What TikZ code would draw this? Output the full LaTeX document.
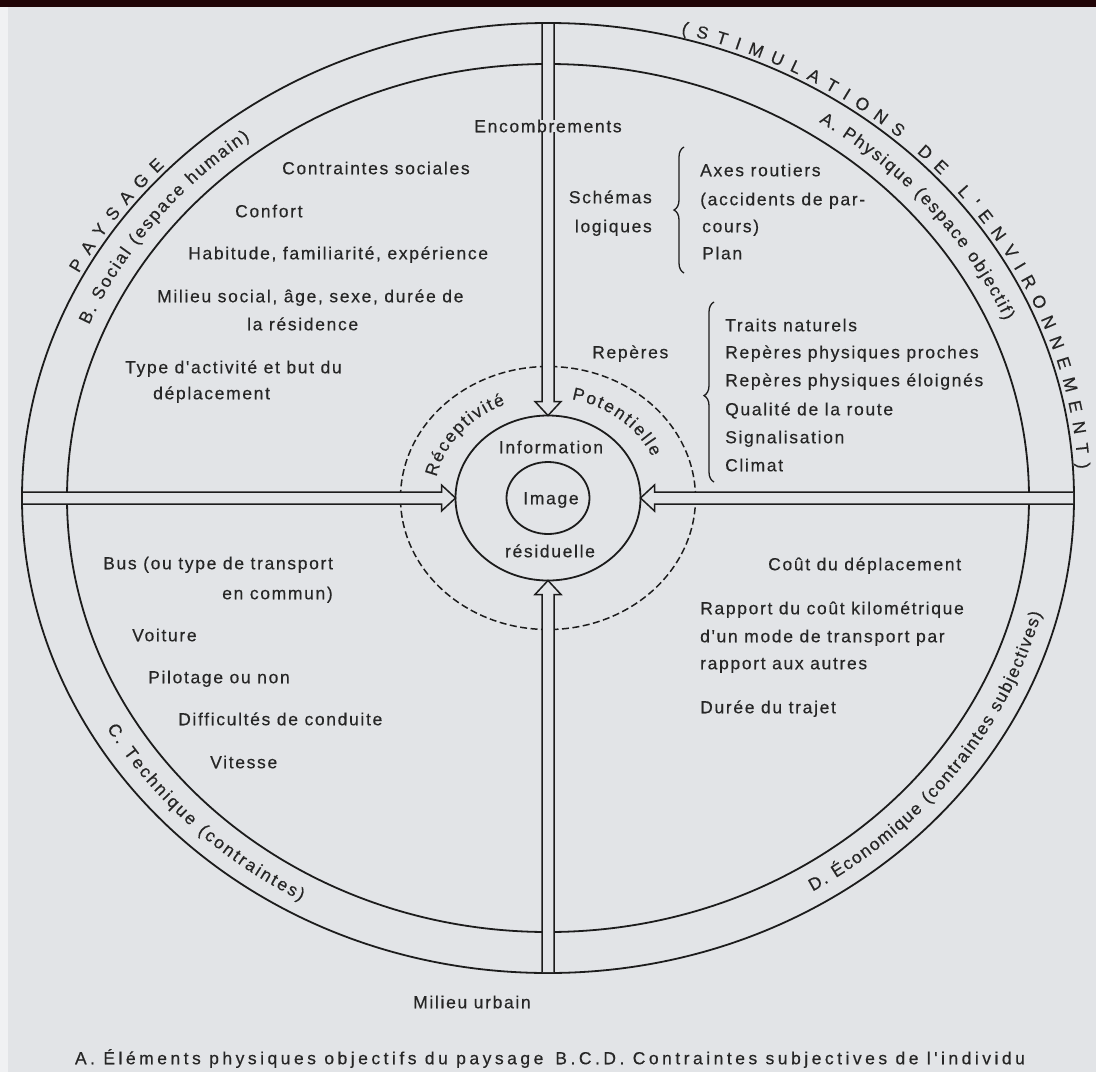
\documentclass[tikz,border=0pt]{standalone}
\usepackage{fontspec}
\setmainfont{Liberation Sans}
\newfontfamily\lblfont{Liberation Sans}[LetterSpace=9.5,FakeBold=0.4]
\newfontfamily\capfont{Liberation Sans}[LetterSpace=20,FakeBold=0.4]
\newfontfamily\arcfont{Liberation Sans}[FakeBold=0.4]
\usetikzlibrary{shapes.geometric,calc,decorations.text,decorations.pathreplacing}
\definecolor{bgc}{RGB}{226,228,231}
\definecolor{ink}{RGB}{28,28,28}
\definecolor{txt}{RGB}{38,38,38}
\definecolor{topband}{RGB}{32,4,6}
\definecolor{edgec}{RGB}{240,241,243}
\newcommand\arrdown[2]{\filldraw[arrowbody] ($(#1)+(-6,-1)$) -- ($(#2)+(-6,14)$) -- ($(#2)+(-13,14)$) -- (#2) -- ($(#2)+(13,14)$) -- ($(#2)+(6,14)$) -- ($(#1)+(6,-1)$);}
\newcommand\arrup[2]{\filldraw[arrowbody] ($(#1)+(-6,1)$) -- ($(#2)+(-6,-14)$) -- ($(#2)+(-13,-14)$) -- (#2) -- ($(#2)+(13,-14)$) -- ($(#2)+(6,-14)$) -- ($(#1)+(6,1)$);}
\newcommand\arrright[2]{\filldraw[arrowbody] ($(#1)+(1,6)$) -- ($(#2)+(-14,6)$) -- ($(#2)+(-14,13)$) -- (#2) -- ($(#2)+(-14,-13)$) -- ($(#2)+(-14,-6)$) -- ($(#1)+(1,-6)$);}
\newcommand\arrleft[2]{\filldraw[arrowbody] ($(#1)+(-1,6)$) -- ($(#2)+(14,6)$) -- ($(#2)+(14,13)$) -- (#2) -- ($(#2)+(14,-13)$) -- ($(#2)+(14,-6)$) -- ($(#1)+(-1,-6)$);}
\newcommand\arctext[5]{\path[decorate, decoration={text along path, text align={fit to path}, text color=txt, text={|\arcfont\fontsize{17.5}{20}\selectfont|#5}}] ($(C)+(#1:#3pt and #4pt)$) arc[start angle=#1, end angle=#2, x radius=#3pt, y radius=#4pt];}
\begin{document}
\begin{tikzpicture}[x=1pt,y=1pt,
  ring/.style={draw=ink, line width=1.8pt, ellipse, inner sep=0pt, outer sep=0pt},
  dashring/.style={ring, line width=1.5pt, dash pattern=on 7pt off 3.5pt},
  arrowbody/.style={draw=ink, fill=bgc, line width=1.5pt, line join=miter},
  lbl/.style={font=\lblfont\fontsize{17.5}{20}\selectfont, text=txt, inner sep=0pt, text height=12.5pt, text depth=0pt},
  bracestyle/.style={draw=ink, line width=1.3pt, decorate, decoration={brace, amplitude=10pt}}]
\useasboundingbox (0,0) rectangle (1096,-1072);
\fill[bgc] (0,0) rectangle (1096,-1072);
\fill[edgec] (0,-7) rectangle (8,-1072);
\fill[topband] (0,0) rectangle (1096,-7);
\coordinate (C) at (548,-498);
% rings
\node[ring, minimum width=1052pt, minimum height=950pt] (outer) at (C) {};
\node[ring, minimum width=962pt, minimum height=868pt] (inner) at (C) {};
\node[dashring, minimum width=295pt, minimum height=263pt] (recept) at (C) {};
\node[ring, minimum width=185pt, minimum height=165pt] (info) at (C) {};
\node[ring, minimum width=83pt, minimum height=72pt] (img) at (C) {};
% arrows
\arrdown{outer.north}{info.north}
\arrup{outer.south}{info.south}
\arrright{outer.west}{info.west}
\arrleft{outer.east}{info.east}
% arc labels
\arctext{152.1}{136.2}{531}{480}{PAYSAGE}
\arctext{75.5}{3.5}{531}{480}{(STIMULATIONS DE L'ENVIRONNEMENT)}
\arctext{57}{23.3}{497.5}{448.5}{A. Physique (espace objectif)}
\arctext{157.3}{126.8}{497.5}{448.5}{B. Social (espace humain)}
\arctext{210}{241}{509.5}{460.5}{C. Technique (contraintes)}
\arctext{301.3}{345.5}{509.5}{460.5}{D. Économique (contraintes subjectives)}
\arctext{168}{112}{114}{101}{Réceptivité}
\arctext{78}{24}{114}{101}{Potentielle}
% center texts
\node[lbl] (tinfo) at (551,-447) {Information};
\node[lbl] (timg) at (551,-498) {Image};
\node[lbl] (tres) at (550,-551) {résiduelle};
% top
\node[lbl, fill=bgc] (tenc) at (548,-126) {Encombrements};
% top-left quadrant
\node[lbl, anchor=west] (b1) at (282,-168) {Contraintes sociales};
\node[lbl, anchor=west] (b2) at (235,-211) {Confort};
\node[lbl, anchor=west] (b3) at (188,-253) {Habitude, familiarité, expérience};
\node[lbl, anchor=west] (b4) at (157,-296) {Milieu social, âge, sexe, durée de};
\node[lbl, anchor=west] (b5) at (247,-324) {la résidence};
\node[lbl, anchor=west] (b6) at (125,-367) {Type d'activité et but du};
\node[lbl, anchor=west] (b7) at (153,-393) {déplacement};
% top-right quadrant
\node[lbl, anchor=east] (a1) at (652,-197) {Schémas};
\node[lbl, anchor=east] (a2) at (652,-226) {logiques};
\coordinate (br1b) at (684,-273);
\coordinate (br1t) at (684,-147);
\draw[bracestyle] (br1b) -- (br1t);
\node[lbl, anchor=west] (a3) at (700,-170) {Axes routiers};
\node[lbl, anchor=west] (a4) at (700,-199) {(accidents de par-};
\node[lbl, anchor=west] (a5) at (702,-226) {cours)};
\node[lbl, anchor=west] (a6) at (702,-253) {Plan};
\node[lbl, anchor=west] (a7) at (592,-352) {Repères};
\coordinate (br2b) at (714,-482);
\coordinate (br2t) at (714,-302);
\draw[bracestyle, decoration={aspect=0.48}] (br2b) -- (br2t);
\node[lbl, anchor=west] (a8) at (725,-325) {Traits naturels};
\node[lbl, anchor=west] (a9) at (725,-352) {Repères physiques proches};
\node[lbl, anchor=west] (a10) at (725,-380) {Repères physiques éloignés};
\node[lbl, anchor=west] (a11) at (725,-409) {Qualité de la route};
\node[lbl, anchor=west] (a12) at (725,-437) {Signalisation};
\node[lbl, anchor=west] (a13) at (725,-465) {Climat};
% bottom-left quadrant
\node[lbl, anchor=west] (c1) at (103,-563) {Bus (ou type de transport};
\node[lbl, anchor=east] (c2) at (333,-593) {en commun)};
\node[lbl, anchor=west] (c3) at (132,-635) {Voiture};
\node[lbl, anchor=west] (c4) at (148,-677) {Pilotage ou non};
\node[lbl, anchor=west] (c5) at (178,-719) {Difficultés de conduite};
\node[lbl, anchor=west] (c6) at (210,-762) {Vitesse};
% bottom-right quadrant
\node[lbl, anchor=west] (d1) at (768,-564) {Coût du déplacement};
\node[lbl, anchor=west] (d2) at (700,-608) {Rapport du coût kilométrique};
\node[lbl, anchor=west] (d3) at (700,-636) {d'un mode de transport par};
\node[lbl, anchor=west] (d4) at (700,-663) {rapport aux autres};
\node[lbl, anchor=west] (d5) at (700,-707) {Durée du trajet};
% bottom
\node[lbl] (milieu) at (472,-1002) {Milieu urbain};
\node[lbl, font=\capfont\fontsize{17.5}{20}\selectfont] (caption) at (550,-1058) {A. Éléments physiques objectifs du paysage\hspace{12pt}B.C.D. Contraintes subjectives de l'individu};
\end{tikzpicture}
\end{document}
